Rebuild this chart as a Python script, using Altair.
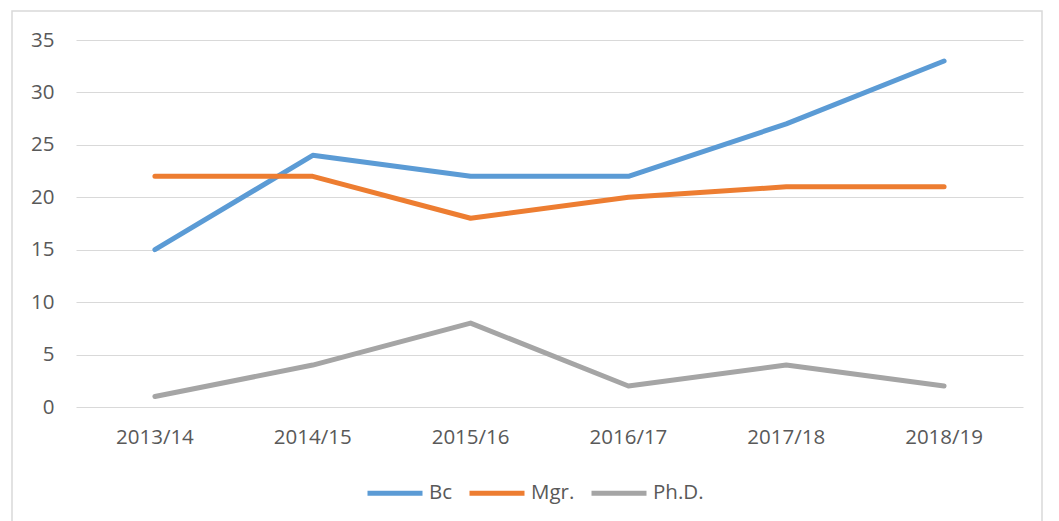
import altair as alt
import pandas as pd

years = ["2013/14", "2014/15", "2015/16", "2016/17", "2017/18", "2018/19"]
bc = [15, 24, 22, 22, 27, 33]
mgr = [22, 22, 18, 20, 21, 21]
phd = [1, 4, 8, 2, 4, 2]
series = ["Bc", "Mgr.", "Ph.D."]
colors = ["#5B9BD5", "#ED7D31", "#A5A5A5"]

rows = []
for name, vals in zip(series, [bc, mgr, phd]):
    for y, v in zip(years, vals):
        rows.append({"year": y, "series": name, "value": v})
df = pd.DataFrame(rows)

FONT = "Open Sans"
TXT = "#595959"

lines = alt.Chart(df).mark_line(strokeWidth=5, strokeCap="round", strokeJoin="round").encode(
    x=alt.X("year:N", sort=years, scale=alt.Scale(type="band", paddingInner=0, paddingOuter=0),
            axis=alt.Axis(title=None, labelAngle=0, ticks=False, domain=False, grid=False,
                          labelPadding=20, labelFontSize=20.5, labelColor=TXT, labelFont=FONT)),
    y=alt.Y("value:Q", scale=alt.Scale(domain=[0, 35], nice=False),
            axis=alt.Axis(title=None, values=[0, 5, 10, 15, 20, 25, 30, 35], ticks=False, domain=False,
                          gridColor="#D9D9D9", gridWidth=1.2, labelPadding=22, labelFontSize=20.5,
                          labelColor=TXT, labelFont=FONT)),
    color=alt.Color("series:N", sort=series, scale=alt.Scale(domain=series, range=colors),
                    legend=alt.Legend(title=None, orient="none", direction="horizontal",
                                      legendX=289, legendY=423, symbolType="stroke",
                                      symbolSize=3025, symbolStrokeWidth=5, labelFontSize=20.5,
                                      labelColor=TXT, labelFont=FONT, labelOffset=4,
                                      columnPadding=6, padding=0)),
)

frame = alt.Chart(pd.DataFrame({"a": [0]})).mark_rect(
    fill=None, stroke="#D9D9D9", strokeWidth=1.5, clip=False
).encode(x=alt.value(-64), x2=alt.value(966), y=alt.value(-29), y2=alt.value(500))

chart = alt.layer(frame, lines).properties(
    width=947, height=367, autosize=alt.AutoSizeParams(type="none"),
    padding={"left": 68, "top": 32, "right": 28, "bottom": 120},
    background="white",
).configure_view(stroke=None)

chart.save("out.html", embed_options={"renderer": "svg", "actions": False})
